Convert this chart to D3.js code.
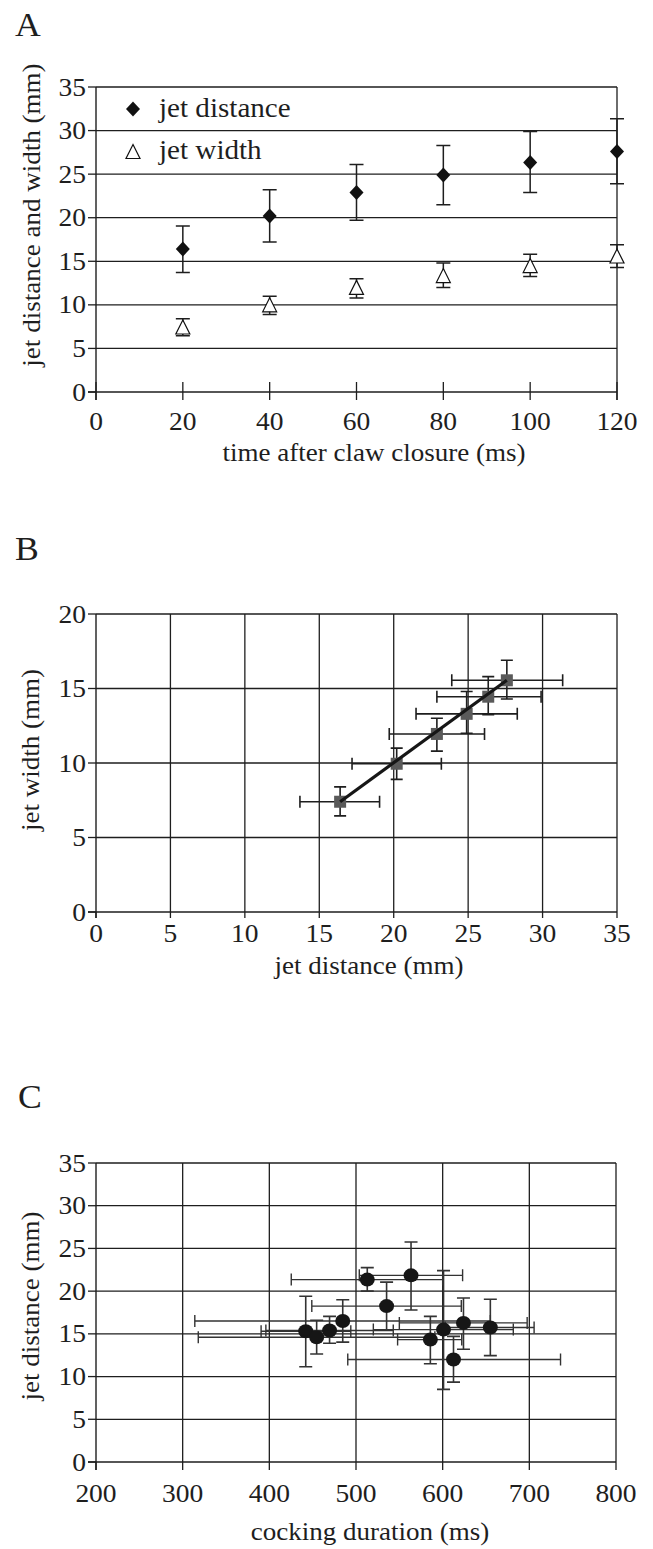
<!DOCTYPE html>
<html><head><meta charset="utf-8">
<script src="https://cdn.jsdelivr.net/npm/d3@7"></script>
<style>
body{margin:0;background:#fff}
text{font-family:"Liberation Serif","Times New Roman",serif;fill:#1e1e1e}
</style>
</head><body>
<svg id="chart" width="653" height="1549"></svg>
<script>
// ---------- Panel A data ----------
const timeMs = [20, 40, 60, 80, 100, 120];
const jetDistance = [16.4, 20.2, 22.9, 24.9, 26.35, 27.6];
const jetDistanceLo = [13.7, 17.2, 19.7, 21.5, 22.9, 23.9];
const jetDistanceHi = [19.05, 23.2, 26.1, 28.3, 29.9, 31.35];
const jetWidth = [7.4, 9.95, 11.95, 13.3, 14.45, 15.55];
const jetWidthLo = [6.45, 8.9, 10.8, 12.0, 13.25, 14.3];
const jetWidthHi = [8.4, 11.0, 13.0, 14.8, 15.8, 16.9];
const ticksAx = [0, 20, 40, 60, 80, 100, 120];
const ticksAy = [0, 5, 10, 15, 20, 25, 30, 35];
const legendA = ["jet distance", "jet width"];

// ---------- Panel B (uses jetDistance / jetWidth) ----------
const ticksBx = [0, 5, 10, 15, 20, 25, 30, 35];
const ticksBy = [0, 5, 10, 15, 20];

// ---------- Panel C data ----------
const cockingDuration = [442, 454.6, 469.5, 484.7, 513, 535.3, 563.5, 585.8, 601, 612.5, 624, 655];
const cockingLo = [390.5, 318, 396, 314, 425.3, 449, 503.8, 548, 520, 490.5, 550, 603];
const cockingHi = [494, 591, 543, 655, 600, 621.5, 623, 622, 681.5, 736, 697.5, 705.5];
const jetDistC = [15.3, 14.6, 15.4, 16.5, 21.35, 18.25, 21.85, 14.33, 15.5, 12.0, 16.28, 15.75];
const jetDistCLo = [11.15, 12.65, 13.9, 14.03, 20.0, 15.45, 17.8, 11.5, 8.5, 9.35, 13.2, 12.45];
const jetDistCHi = [19.4, 16.6, 17.05, 19.0, 22.75, 21.05, 25.75, 17.05, 22.4, 14.7, 19.2, 19.05];
const ticksCx = [200, 300, 400, 500, 600, 700, 800];
const ticksCy = [0, 5, 10, 15, 20, 25, 30, 35];

const svg = d3.select("#chart");
const INK = "#1e1e1e";

function txt(g, x, y, s, size, sx, anchor, rot) {
  return g.append("text")
    .attr("transform", `translate(${x},${y})${rot ? " rotate(-90)" : ""} scale(${sx},1)`)
    .attr("text-anchor", anchor || "start").attr("font-size", size).text(s);
}

function panelFrame(g, x, y, xt, yt, o) {
  const [x0, x1] = x.range(), [y0, y1] = y.range();
  g.selectAll(null).data(yt.slice(1)).join("line")
    .attr("x1", x0).attr("x2", x1).attr("y1", d => y(d)).attr("y2", d => y(d))
    .attr("stroke", INK).attr("stroke-width", 1.3);
  if (o.vgrid) {
    g.selectAll(null).data(xt.slice(1)).join("line")
      .attr("x1", d => x(d)).attr("x2", d => x(d)).attr("y1", y0).attr("y2", y1)
      .attr("stroke", INK).attr("stroke-width", 1.3);
  } else {
    g.append("line").attr("x1", x1).attr("x2", x1).attr("y1", y1).attr("y2", y0 + o.tickDown)
      .attr("stroke", INK).attr("stroke-width", 1.3);
  }
  g.append("line").attr("x1", x0).attr("x2", x0).attr("y1", y1).attr("y2", y0 + o.tickDown)
    .attr("stroke", INK).attr("stroke-width", 1.4);
  g.append("line").attr("x1", x0 - 8).attr("x2", x1).attr("y1", y0).attr("y2", y0)
    .attr("stroke", INK).attr("stroke-width", 1.4);
  g.selectAll(null).data(xt).join("line")
    .attr("x1", d => x(d)).attr("x2", d => x(d)).attr("y1", y0 - o.tickUp).attr("y2", y0 + o.tickDown)
    .attr("stroke", INK).attr("stroke-width", 1.3);
  g.selectAll(null).data(yt).join("line")
    .attr("x1", x0 - 8).attr("x2", x0).attr("y1", d => y(d)).attr("y2", d => y(d))
    .attr("stroke", INK).attr("stroke-width", 1.3);
  yt.forEach(d => txt(g, x0 - 10, y(d) + 8.5, d, 25, 1.1, "end"));
  xt.forEach(d => txt(g, x(d), o.xLabelY, d, 25, 1.1, "middle"));
  txt(g, o.xTitle[0], o.xTitle[1], o.xTitleText, 26, 1.04, "middle");
  txt(g, o.yTitle[0], o.yTitle[1], o.yTitleText, 26, 1.04, "middle", true);
  txt(g, o.letter[0], o.letter[1], o.letterText, 34, 1.05, "start");
}

function vErr(g, data, x, y, half, color, w) {
  g.selectAll(null).data(data).join("path")
    .attr("d", d => `M${x(d.x)},${y(d.lo)}V${y(d.hi)}M${x(d.x)-half},${y(d.lo)}H${x(d.x)+half}M${x(d.x)-half},${y(d.hi)}H${x(d.x)+half}`)
    .attr("fill", "none").attr("stroke", color).attr("stroke-width", w);
}
function hErr(g, data, x, y, half, color, w) {
  g.selectAll(null).data(data).join("path")
    .attr("d", d => `M${x(d.lo)},${y(d.y)}H${x(d.hi)}M${x(d.lo)},${y(d.y)-half}V${y(d.y)+half}M${x(d.hi)},${y(d.y)-half}V${y(d.y)+half}`)
    .attr("fill", "none").attr("stroke", color).attr("stroke-width", w);
}

// ================= Panel A =================
{
  const g = svg.append("g");
  const x = d3.scaleLinear().domain([0, 120]).range([96, 617]);
  const y = d3.scaleLinear().domain([0, 35]).range([392, 87]);
  panelFrame(g, x, y, ticksAx, ticksAy, {
    vgrid: false, tickUp: 10, tickDown: 8, xLabelY: 430,
    xTitle: [374, 461], xTitleText: "time after claw closure (ms)",
    yTitle: [40, 215], yTitleText: "jet distance and width (mm)",
    letter: [15, 36], letterText: "A"
  });
  const dist = timeMs.map((t, i) => ({x: t, v: jetDistance[i], lo: jetDistanceLo[i], hi: jetDistanceHi[i]}));
  const wid = timeMs.map((t, i) => ({x: t, v: jetWidth[i], lo: jetWidthLo[i], hi: jetWidthHi[i]}));
  vErr(g, dist, x, y, 7, INK, 1.5);
  vErr(g, wid, x, y, 7, INK, 1.5);
  const diamond = "M0,-7.5L7,0L0,7.5L-7,0Z";
  const tri = "M0,-7.5L7,6.5L-7,6.5Z";
  g.selectAll(null).data(dist).join("path").attr("d", diamond)
    .attr("transform", d => `translate(${x(d.x)},${y(d.v)})`).attr("fill", "#111");
  g.selectAll(null).data(wid).join("path").attr("d", tri)
    .attr("transform", d => `translate(${x(d.x)},${y(d.v)})`).attr("fill", "#fff").attr("stroke", "#111").attr("stroke-width", 1.2);
  g.append("path").attr("d", diamond).attr("transform", "translate(133,109)").attr("fill", "#111");
  g.append("path").attr("d", tri).attr("transform", "translate(133,152)").attr("fill", "#fff").attr("stroke", "#111").attr("stroke-width", 1.2);
  txt(g, 159, 117, legendA[0], 28, 1.04, "start");
  txt(g, 159, 159, legendA[1], 28, 1.04, "start");
}

// ================= Panel B =================
{
  const g = svg.append("g");
  const x = d3.scaleLinear().domain([0, 35]).range([96, 617]);
  const y = d3.scaleLinear().domain([0, 20]).range([912, 614]);
  panelFrame(g, x, y, ticksBx, ticksBy, {
    vgrid: true, tickUp: 0, tickDown: 6, xLabelY: 942,
    xTitle: [369, 974], xTitleText: "jet distance (mm)",
    yTitle: [39, 750], yTitleText: "jet width (mm)",
    letter: [15, 560], letterText: "B"
  });
  const pts = jetDistance.map((d, i) => ({
    x: d, y: jetWidth[i], xlo: jetDistanceLo[i], xhi: jetDistanceHi[i], ylo: jetWidthLo[i], yhi: jetWidthHi[i]
  }));
  hErr(g, pts.map(p => ({y: p.y, lo: p.xlo, hi: p.xhi})), x, y, 6, INK, 1.6);
  vErr(g, pts.map(p => ({x: p.x, lo: p.ylo, hi: p.yhi})), x, y, 6, INK, 1.6);
  g.selectAll(null).data(pts).join("rect")
    .attr("x", d => x(d.x) - 6).attr("y", d => y(d.y) - 6).attr("width", 12).attr("height", 12)
    .attr("fill", "#5a5a5a");
  const first = pts[0], last = pts[pts.length - 1];
  g.append("line").attr("x1", x(first.x)).attr("y1", y(first.y)).attr("x2", x(last.x)).attr("y2", y(last.y))
    .attr("stroke", "#161616").attr("stroke-width", 3.2);
}

// ================= Panel C =================
{
  const g = svg.append("g");
  const x = d3.scaleLinear().domain([200, 800]).range([96, 616]);
  const y = d3.scaleLinear().domain([0, 35]).range([1462, 1163]);
  panelFrame(g, x, y, ticksCx, ticksCy, {
    vgrid: true, tickUp: 0, tickDown: 8, xLabelY: 1502,
    xTitle: [370, 1540], xTitleText: "cocking duration (ms)",
    yTitle: [39, 1306], yTitleText: "jet distance (mm)",
    letter: [18, 1108], letterText: "C"
  });
  const pts = cockingDuration.map((d, i) => ({
    x: d, y: jetDistC[i], xlo: cockingLo[i], xhi: cockingHi[i], ylo: jetDistCLo[i], yhi: jetDistCHi[i]
  }));
  hErr(g, pts.map(p => ({y: p.y, lo: p.xlo, hi: p.xhi})), x, y, 6, "#333", 1.4);
  vErr(g, pts.map(p => ({x: p.x, lo: p.ylo, hi: p.yhi})), x, y, 6.5, "#333", 1.6);
  g.selectAll(null).data(pts).join("ellipse")
    .attr("cx", d => x(d.x)).attr("cy", d => y(d.y)).attr("rx", 7.5).attr("ry", 7)
    .attr("fill", "#161616");
}
</script>
</body></html>
